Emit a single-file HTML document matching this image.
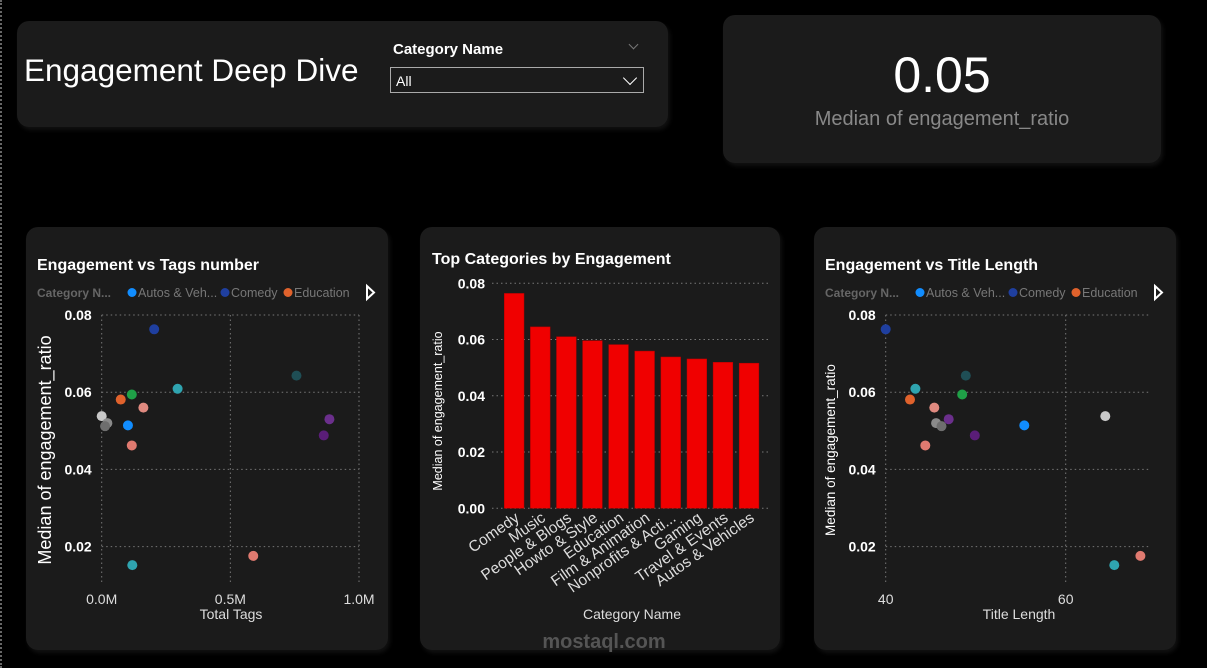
<!DOCTYPE html>
<html><head><meta charset="utf-8"><style>
body{margin:0;width:1207px;height:668px;background:#000;overflow:hidden;font-family:"Liberation Sans",sans-serif;position:relative}
.panel{position:absolute;background:#1b1b1b;border-radius:12px;box-shadow:2px 3px 4px #111}
svg text{font-family:"Liberation Sans",sans-serif}
.chev{position:absolute;width:9px;height:9px;border-right:1.5px solid #fff;border-bottom:1.5px solid #fff;transform:rotate(45deg)}
</style></head><body>
<div style="position:absolute;left:0;top:0;width:0;height:668px;border-left:2px dotted #666"></div>
<div class="panel" style="left:17px;top:21px;width:651px;height:106px">
 <div style="position:absolute;left:7px;top:31px;color:#fff;font-size:31.5px">Engagement Deep Dive</div>
 <div style="position:absolute;left:376px;top:20px;color:#fff;font-size:15px;font-weight:bold">Category Name</div>
 <div class="chev" style="left:613px;top:20px;width:6px;height:6px;border-color:#777;border-width:1px"></div>
 <div style="position:absolute;left:373px;top:46px;width:254px;height:26px;border:1px solid #aaa;color:#fff;font-size:14px;line-height:27px;padding-left:5px;box-sizing:border-box">All<div class="chev" style="right:8px;top:5px"></div></div>
</div>
<div class="panel" style="left:723px;top:15px;width:438px;height:148px">
 <div style="position:absolute;left:0;width:438px;top:31px;text-align:center;color:#fff;font-size:50px">0.05</div>
 <div style="position:absolute;left:0;width:438px;top:93px;text-align:center;color:#888;font-size:20px">Median of engagement_ratio</div>
</div>
<div class="panel" style="left:26px;top:227px;width:362px;height:423px"></div>
<div class="panel" style="left:420px;top:227px;width:360px;height:423px"></div>
<div class="panel" style="left:814px;top:227px;width:362px;height:423px"></div>
<svg id="chart" width="1207" height="668" style="position:absolute;left:0;top:0"></svg>
<script>
const catColors = ["#1f3f9f","#1f4e55","#2fa4b0","#1fa047","#e0622c","#e08a80","#c8c8c8","#8a8a8a","#6e6e6e","#118dff","#e07a70","#6b2f8c","#5a1d78","#e07a70","#2fa4b0"];
const tagsValues = [0.204,0.757,0.295,0.117,0.074,0.162,0.0,0.022,0.013,0.102,0.117,0.885,0.863,0.589,0.119];
const titleLengths = [40,48.9,43.3,48.5,42.7,45.4,64.4,45.6,46.2,55.4,44.4,47.0,49.9,68.3,65.4];
const engagement = [0.0763,0.0643,0.0609,0.0594,0.0581,0.056,0.0538,0.052,0.0512,0.0514,0.0462,0.053,0.0488,0.0176,0.0152];
const barCategories = ["Comedy","Music","People & Blogs","Howto & Style","Education","Film & Animation","Nonprofits & Acti...","Gaming","Travel & Events","Autos & Vehicles"];
const barValues = [0.0764,0.0645,0.0610,0.0596,0.0582,0.0559,0.0538,0.0531,0.0519,0.0516];
const yTicks = [0.02,0.04,0.06,0.08];
const barTicks = [0.00,0.02,0.04,0.06,0.08];
const tagTicks = [0,0.5,1.0];
const tagTickLabels = ["0.0M","0.5M","1.0M"];
const titleTicks = [40,60];
const legendNames = ["Autos & Veh...","Comedy","Education"];
const legendColors = ["#118dff","#1f3f9f","#e0622c"];

const svg = document.getElementById('chart');
const NS = 'http://www.w3.org/2000/svg';
function mk(tag, attrs, text){const e=document.createElementNS(NS,tag);for(const k in attrs)e.setAttribute(k,attrs[k]);if(text!==undefined)e.textContent=text;svg.appendChild(e);return e;}

const scY = v => 315 + (0.08 - v) / 0.02 * 77.2;

function scatter(ox, title, xs, xScale, ticks, tickLabels, xTitle, gridRight, yTitleSize, yTitleX){
  const t = mk('text',{x:ox+11,y:270,fill:'#fff','font-size':16,'font-weight':'bold'},title);
  
  
  const lg = mk('text',{x:ox+11,y:297,fill:'#666','font-size':12,'font-weight':'bold'},'Category N...');
  
  
  let lx = ox+102;
  const widths=[93,63,70];
  legendNames.forEach((n,i)=>{
    const c = mk('circle',{cx:lx+4,cy:292.5,r:4.5,fill:legendColors[i]});
    
    
    const lt = mk('text',{x:lx+10,y:297,fill:'#777','font-size':12.5},n);
    
    
    lx += widths[i];
  });
  const arr = mk('path',{d:`M${ox+341} 286 L${ox+348} 292.5 L${ox+341} 299 Z`,fill:'none',stroke:'#fff','stroke-width':2});
  
  
  const left = xScale(ticks[0]);
  yTicks.forEach(v=>{
    const g = mk('line',{x1:left,x2:gridRight,y1:scY(v),y2:scY(v),stroke:'#777','stroke-dasharray':'1.5 3'});
    
    
    const tl = mk('text',{x:left-10,y:scY(v)+5,fill:'#fff','font-size':14,'font-weight':'bold','text-anchor':'end'},v.toFixed(2));
    
    
  });
  ticks.forEach((v,i)=>{
    const g = mk('line',{x1:xScale(v),x2:xScale(v),y1:315,y2:585,stroke:'#777','stroke-dasharray':'1.5 3'});
    
    
    const tl = mk('text',{x:xScale(v),y:604,fill:'#ddd','font-size':14,'text-anchor':'middle'},tickLabels[i]);
    
    
  });
  const xt = mk('text',{x:ox+205,y:619,fill:'#ddd','font-size':14,'text-anchor':'middle'},xTitle);
  
  
  const yt = mk('text',{x:0,y:0,fill:'#fff','font-size':yTitleSize,'text-anchor':'middle',transform:`translate(${ox+yTitleX},450) rotate(-90)`},'Median of engagement_ratio');
  
  
  xs.forEach((v,i)=>{
    const p = mk('circle',{cx:xScale(v),cy:scY(engagement[i]),r:5,fill:catColors[i]});
    
    
  });
}
scatter(26,'Engagement vs Tags number',tagsValues,v=>101.7+v*257.3,tagTicks,tagTickLabels,'Total Tags',359,18,25);
scatter(814,'Engagement vs Title Length',titleLengths,v=>885.7+(v-40)*9,titleTicks,titleTicks.map(String),'Title Length',1150,13.5,21);

// bar chart
const bY = v => 508.3 - v/0.08*225;
const bX = i => 504.3 + i*26.1;
const bt = mk('text',{x:432,y:264,fill:'#fff','font-size':16,'font-weight':'bold'},'Top Categories by Engagement');


barTicks.forEach(v=>{
  const g = mk('line',{x1:492,x2:770,y1:bY(v),y2:bY(v),stroke:'#777','stroke-dasharray':'1.5 3'});
  
  
  const tl = mk('text',{x:485,y:bY(v)+5,fill:'#fff','font-size':14,'font-weight':'bold','text-anchor':'end'},v.toFixed(2));
  
  
});
barValues.forEach((v,i)=>{
  const r = mk('rect',{x:bX(i),y:bY(v),width:19.7,height:bY(0)-bY(v),fill:'#f00000',stroke:'#b00','stroke-width':0.5});
  
  
  const cx = bX(i)+16;
  const l = mk('text',{x:0,y:0,fill:'#ddd','font-size':15.5,'text-anchor':'end',transform:`translate(${cx},${520}) rotate(-35)`},barCategories[i]);
  
  
});
const bxt = mk('text',{x:632,y:619,fill:'#ddd','font-size':14,'text-anchor':'middle'},'Category Name');


const byt = mk('text',{x:0,y:0,fill:'#fff','font-size':12.5,'text-anchor':'middle',transform:'translate(442,411) rotate(-90)'},'Median of engagement_ratio');


const wm = mk('text',{x:604,y:648,fill:'#555','font-size':20,'text-anchor':'middle','font-weight':'bold'},'mostaql.com');


</script>
</body></html>
